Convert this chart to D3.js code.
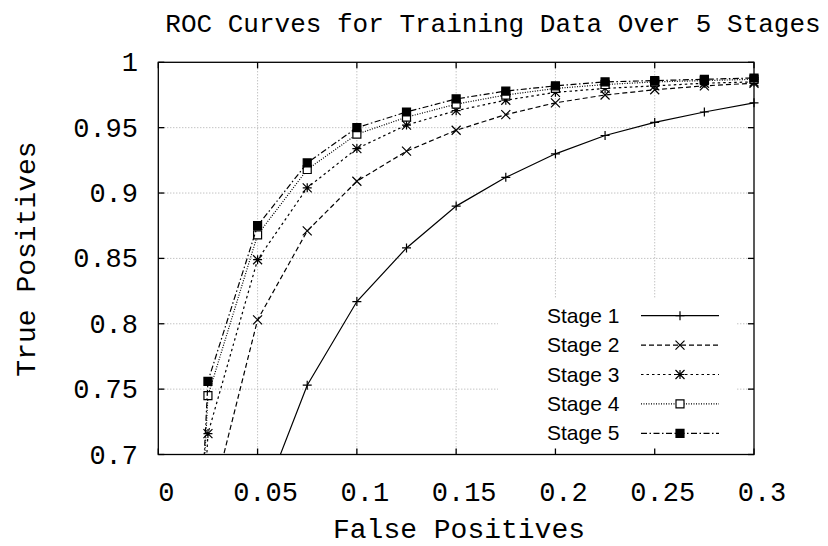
<!DOCTYPE html>
<html>
<head>
<meta charset="utf-8">
<script src="https://cdn.jsdelivr.net/npm/d3@7/dist/d3.min.js"></script>
<style>
  html, body { margin: 0; padding: 0; background: #fff; }
  svg { display: block; }
</style>
</head>
<body>
<svg id="chart" width="828" height="546"></svg>
<script>
// ---------- data ----------
const falsePositives = [0, 0.025, 0.05, 0.075, 0.1, 0.125, 0.15, 0.175, 0.2, 0.225, 0.25, 0.275, 0.3];
const stage1 = [0, 0.45, 0.655, 0.753, 0.817, 0.858, 0.890, 0.912, 0.930, 0.944, 0.954, 0.962, 0.969];
const stage2 = [0, 0.652, 0.803, 0.871, 0.909, 0.932, 0.948, 0.960, 0.969, 0.975, 0.979, 0.982, 0.984];
const stage3 = [0, 0.716, 0.849, 0.904, 0.934, 0.952, 0.963, 0.971, 0.977, 0.980, 0.982, 0.984, 0.985];
const stage4 = [0, 0.745, 0.868, 0.918, 0.945, 0.958, 0.968, 0.975, 0.980, 0.983, 0.985, 0.986, 0.987];
const stage5 = [0, 0.756, 0.875, 0.923, 0.950, 0.962, 0.972, 0.978, 0.982, 0.985, 0.986, 0.987, 0.988];
const seriesNames = ["Stage 1", "Stage 2", "Stage 3", "Stage 4", "Stage 5"];
const xTicks = [0, 0.05, 0.1, 0.15, 0.2, 0.25, 0.3];
const yTicks = [0.7, 0.75, 0.8, 0.85, 0.9, 0.95, 1];
const titleText = "ROC Curves for Training Data Over 5 Stages";
const xLabel = "False Positives";
const yLabel = "True Positives";

// ---------- styles ----------
const dashes = [null, "5,3", "2.5,3", "1,1.5", "6,2.5,1.5,2.5"];
const markerTypes = ["plus", "cross", "star", "square", "filledSquare"];

const svg = d3.select("#chart");
const L = 158.3, R = 754, T = 62.3, B = 454.5;
const x = d3.scaleLinear().domain([0, 0.3]).range([L, R]);
const y = d3.scaleLinear().domain([0.7, 1]).range([B, T]);

const mono = "'Liberation Mono', 'Courier New', monospace";
const sans = "'Liberation Sans', Arial, sans-serif";

// grid
const grid = svg.append("g").attr("stroke", "#aaa").attr("stroke-width", 1)
  .attr("stroke-dasharray", "1,2").attr("fill", "none");
xTicks.slice(1, -1).forEach(t => grid.append("line")
  .attr("x1", x(t)).attr("x2", x(t)).attr("y1", T).attr("y2", B));
yTicks.slice(1, -1).forEach(t => grid.append("line")
  .attr("x1", L).attr("x2", R).attr("y1", y(t)).attr("y2", y(t)));

// opaque legend box (hides grid)
svg.append("rect").attr("x", 498).attr("y", 298).attr("width", 239).attr("height", B - 298)
  .attr("fill", "#fff");

// clip
svg.append("clipPath").attr("id", "plotclip").append("rect")
  .attr("x", L).attr("y", T).attr("width", R - L).attr("height", B - T);

function markerPath(type, cx, cy) {
  const s = 4.5;
  const p = d3.path();
  if (type === "plus" || type === "star") {
    p.moveTo(cx - s, cy); p.lineTo(cx + s, cy);
    p.moveTo(cx, cy - s); p.lineTo(cx, cy + s);
  }
  if (type === "cross" || type === "star") {
    p.moveTo(cx - s, cy - s); p.lineTo(cx + s, cy + s);
    p.moveTo(cx - s, cy + s); p.lineTo(cx + s, cy - s);
  }
  if (type === "square" || type === "filledSquare") {
    const q = 4;
    p.rect(cx - q, cy - q, 2 * q, 2 * q);
  }
  return p.toString();
}

const allSeries = [stage1, stage2, stage3, stage4, stage5];
const line = d3.line().x(d => x(d[0])).y(d => y(d[1]));

allSeries.forEach((vals, i) => {
  const pts = falsePositives.map((f, k) => [f, vals[k]]);
  const g = svg.append("g");
  g.append("path").attr("d", line(pts)).attr("clip-path", "url(#plotclip)")
    .attr("fill", "none").attr("stroke", "#000").attr("stroke-width", 1.2)
    .attr("stroke-dasharray", dashes[i]);
  pts.filter(p => p[1] >= 0.7 && p[1] <= 1).forEach(p => {
    const t = markerTypes[i];
    g.append("path").attr("d", markerPath(t, x(p[0]), y(p[1])))
      .attr("fill", t === "filledSquare" ? "#000" : (t === "square" ? "#fff" : "none"))
      .attr("stroke", "#000").attr("stroke-width", 1.2);
  });
});

// border and ticks
svg.append("rect").attr("x", L).attr("y", T).attr("width", R - L).attr("height", B - T)
  .attr("fill", "none").attr("stroke", "#000").attr("stroke-width", 1.3);
const tk = svg.append("g").attr("stroke", "#000").attr("stroke-width", 1.3);
xTicks.forEach(t => {
  tk.append("line").attr("x1", x(t)).attr("x2", x(t)).attr("y1", B).attr("y2", B - 6);
  tk.append("line").attr("x1", x(t)).attr("x2", x(t)).attr("y1", T).attr("y2", T + 6);
});
yTicks.forEach(t => {
  tk.append("line").attr("x1", L).attr("x2", L + 6).attr("y1", y(t)).attr("y2", y(t));
  tk.append("line").attr("x1", R).attr("x2", R - 6).attr("y1", y(t)).attr("y2", y(t));
});

// tick labels
const fmt = d => String(+d.toFixed(2));
svg.append("g").selectAll("text").data(xTicks).join("text")
  .attr("x", d => x(d) + 8).attr("y", 501)
  .attr("text-anchor", "middle").attr("font-family", mono).attr("font-size", 27)
  .attr("fill", "#000").text(fmt);
svg.append("g").selectAll("text").data(yTicks).join("text")
  .attr("x", 138).attr("y", d => y(d) + 9)
  .attr("text-anchor", "end").attr("font-family", mono).attr("font-size", 27)
  .attr("fill", "#000").text(fmt);

// titles
svg.append("text").attr("x", 493).attr("y", 32).attr("text-anchor", "middle")
  .attr("font-family", mono).attr("font-size", 26).attr("fill", "#000").text(titleText);
svg.append("text").attr("x", 459).attr("y", 538).attr("text-anchor", "middle")
  .attr("font-family", mono).attr("font-size", 28).attr("fill", "#000").text(xLabel);
svg.append("text").attr("transform", "translate(35,259) rotate(-90)").attr("text-anchor", "middle")
  .attr("font-family", mono).attr("font-size", 28).attr("fill", "#000").text(yLabel);

// legend
seriesNames.forEach((name, i) => {
  const ly = 315.7 + i * 29.4;
  svg.append("text").attr("x", 547).attr("y", ly + 7).attr("font-family", sans)
    .attr("font-size", 21).attr("fill", "#000").text(name);
  svg.append("line").attr("x1", 641).attr("x2", 719).attr("y1", ly).attr("y2", ly)
    .attr("stroke", "#000").attr("stroke-width", 1.2).attr("stroke-dasharray", dashes[i]);
  const t = markerTypes[i];
  svg.append("path").attr("d", markerPath(t, 680, ly))
    .attr("fill", t === "filledSquare" ? "#000" : (t === "square" ? "#fff" : "none"))
    .attr("stroke", "#000").attr("stroke-width", 1.2);
});
</script>
</body>
</html>
